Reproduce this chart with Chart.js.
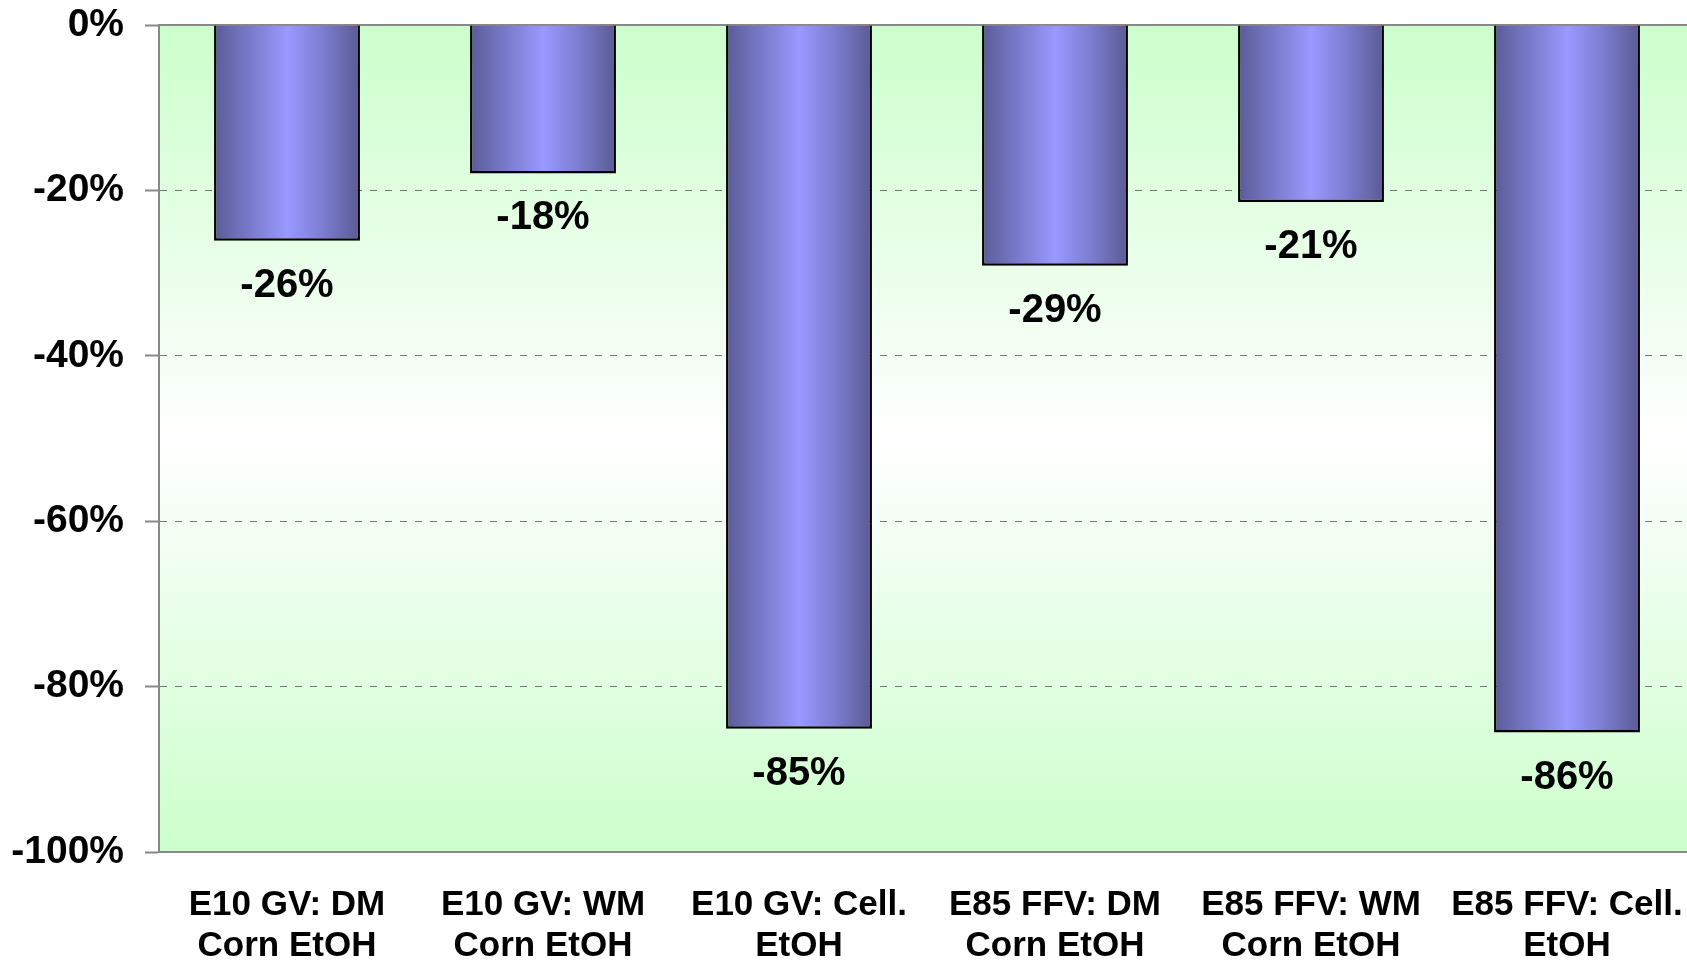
<!DOCTYPE html>
<html>
<head>
    <title>Ethanol GHG change</title>
    <script src="https://cdn.jsdelivr.net/npm/chart.js"></script>
    <style>
        body {
            margin: 0;
            padding: 0;
            background-color: #ffffff;
        }
        #wrap {
            width: 1687px;
            height: 963px;
        }
    </style>
</head>
<body>
    <div id="wrap">
        <canvas id="ghgChart"></canvas>
    </div>

    <script>
        // data
        var categories = [
            ["E10 GV: DM", "Corn EtOH"],
            ["E10 GV: WM", "Corn EtOH"],
            ["E10 GV: Cell.", "EtOH"],
            ["E85 FFV: DM", "Corn EtOH"],
            ["E85 FFV: WM", "Corn EtOH"],
            ["E85 FFV: Cell.", "EtOH"]
        ];
        var changeValues = [-26.1, -17.95, -85.1, -29.1, -21.4, -85.55];
        var yTicks = [0, -20, -40, -60, -80, -100];

        var fontFamily = "'Liberation Sans', Arial, sans-serif";

        // the plot runs a little past the right edge of the picture
        var overhang = 8;

        var stretchRight = {
            id: 'stretchRight',
            afterLayout: function (chart) {
                var xs = chart.scales.x;
                var xt = chart.scales.xTop;
                [xs, xt].forEach(function (s) {
                    s.right += overhang;
                    s.width += overhang;
                    s.configure();
                });
                chart.chartArea.right += overhang;
                chart.chartArea.width += overhang;
            }
        };

        // green - white - green behind the plot
        var plotBackground = {
            id: 'plotBackground',
            beforeDraw: function (chart) {
                var ctx = chart.ctx;
                var a = chart.chartArea;
                ctx.save();
                ctx.fillStyle = '#ffffff';
                ctx.fillRect(0, 0, chart.width, chart.height);
                var g = ctx.createLinearGradient(0, a.top, 0, a.bottom);
                g.addColorStop(0, '#ccffcc');
                g.addColorStop(0.5, '#ffffff');
                g.addColorStop(1, '#ccffcc');
                ctx.fillStyle = g;
                ctx.fillRect(a.left, a.top, a.right - a.left, a.bottom - a.top);
                ctx.restore();
            }
        };

        // value under each bar
        var barLabels = {
            id: 'barLabels',
            afterDatasetsDraw: function (chart) {
                var ctx = chart.ctx;
                var meta = chart.getDatasetMeta(0);
                ctx.save();
                ctx.font = 'bold 40px ' + fontFamily;
                ctx.fillStyle = '#000000';
                ctx.textAlign = 'center';
                ctx.textBaseline = 'middle';
                meta.data.forEach(function (bar, i) {
                    var v = chart.data.datasets[0].data[i];
                    ctx.fillText(Math.round(v) + '%', bar.x, bar.y + 45);
                });
                ctx.restore();
            }
        };

        var barPct = 0.57;

        function barGradient(context) {
            var chart = context.chart;
            var xs = chart.scales.x;
            if (!chart.chartArea || !xs) {
                return '#9999ff';
            }
            var cx = xs.getPixelForValue(context.dataIndex);
            var w = (xs.width / categories.length) * barPct;
            var g = chart.ctx.createLinearGradient(cx - w / 2, 0, cx + w / 2, 0);
            g.addColorStop(0, '#5b5b98');
            g.addColorStop(0.25, '#7a7acc');
            g.addColorStop(0.5, '#9999ff');
            g.addColorStop(0.75, '#7c7cd0');
            g.addColorStop(1, '#5a5a94');
            return g;
        }

        function noOverflow(scale) {
            scale.paddingTop = 0;
            scale.paddingBottom = 0;
            scale.paddingLeft = 0;
            scale.paddingRight = 0;
        }

        var ghgChart = new Chart(document.getElementById('ghgChart').getContext('2d'), {
            type: 'bar',
            data: {
                labels: categories,
                datasets: [{
                    data: changeValues,
                    backgroundColor: barGradient,
                    borderColor: '#000000',
                    borderWidth: 2.5,
                    barPercentage: barPct,
                    categoryPercentage: 1
                }]
            },
            options: {
                responsive: true,
                maintainAspectRatio: false,
                animation: false,
                layout: {
                    padding: 0
                },
                plugins: {
                    legend: { display: false },
                    title: { display: false },
                    tooltip: { enabled: false }
                },
                scales: {
                    x: {
                        position: 'bottom',
                        grid: { display: false, drawTicks: false },
                        border: { display: true, color: '#888888', width: 2 },
                        ticks: {
                            color: '#000000',
                            padding: 33,
                            maxRotation: 0,
                            autoSkip: false,
                            font: { family: fontFamily, size: 35, weight: 'bold', lineHeight: 41 / 35 }
                        },
                        afterFit: function (scale) {
                            scale.height = 111;
                            noOverflow(scale);
                        }
                    },
                    xTop: {
                        type: 'category',
                        position: 'top',
                        grid: { display: false, drawTicks: false },
                        border: { display: true, color: '#888888', width: 2 },
                        ticks: { display: false },
                        afterFit: function (scale) {
                            scale.height = 25;
                            noOverflow(scale);
                        }
                    },
                    y: {
                        min: -100,
                        max: 0,
                        afterBuildTicks: function (scale) {
                            scale.ticks = yTicks.map(function (v) { return { value: v }; });
                        },
                        grid: {
                            color: function (c) {
                                var v = c.tick ? c.tick.value : null;
                                return (v === 0 || v === -100) ? 'rgba(0,0,0,0)' : '#777777';
                            },
                            lineWidth: 1,
                            drawTicks: true,
                            tickLength: 14,
                            tickColor: '#888888',
                            tickWidth: 2
                        },
                        border: { display: true, color: '#888888', width: 2, dash: [7, 8] },
                        ticks: {
                            color: '#000000',
                            padding: 21,
                            callback: function (v) { return v + '%'; },
                            font: { family: fontFamily, size: 39, weight: 'bold' }
                        },
                        afterFit: function (scale) {
                            scale.width = 159;
                            noOverflow(scale);
                        }
                    }
                }
            },
            plugins: [stretchRight, plotBackground, barLabels]
        });
    </script>
</body>
</html>
